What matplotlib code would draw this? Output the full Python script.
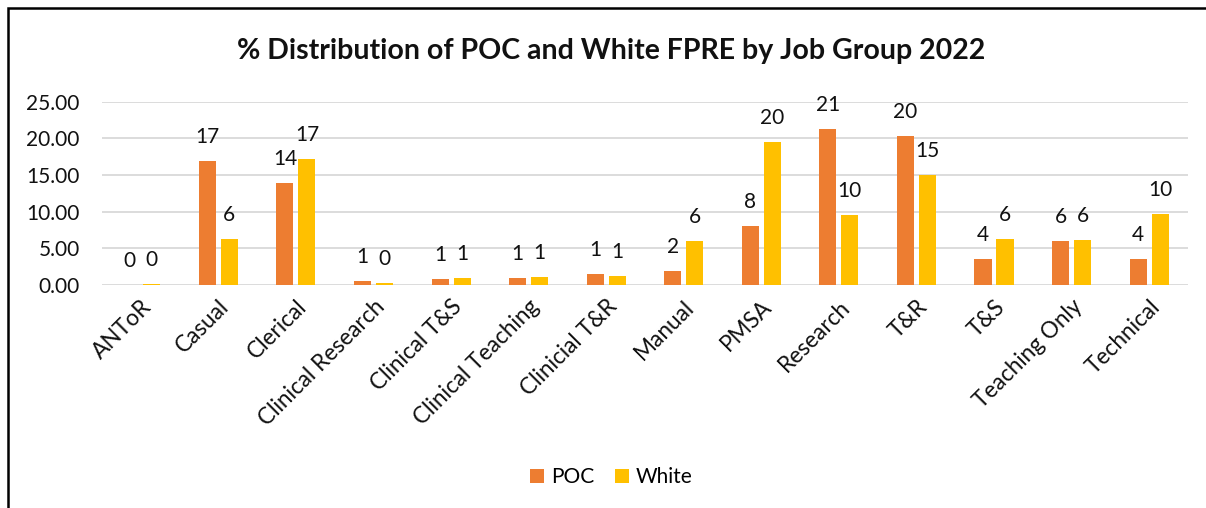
import matplotlib
matplotlib.use("Agg")
import matplotlib.pyplot as plt
import numpy as np
from matplotlib.patches import Rectangle

categories = ["ANToR", "Casual", "Clerical", "Clinical Research", "Clinical T&S",
              "Clinical Teaching", "Clinicial T&R", "Manual", "PMSA", "Research",
              "T&R", "T&S", "Teaching Only", "Technical"]
poc = [0.0, 16.9, 13.95, 0.55, 0.82, 0.95, 1.46, 1.87, 8.05, 21.3, 20.3, 3.6, 6.05, 3.6]
white = [0.1, 6.3, 17.2, 0.27, 0.95, 1.1, 1.2, 6.0, 19.5, 9.6, 15.05, 6.3, 6.1, 9.65]
yticks = [0, 5, 10, 15, 20, 25]

POC_COLOR = "#ED7D31"
WHITE_COLOR = "#FFC000"
FONT = "Lato"
FS = 15

plt.rcParams["font.family"] = [FONT, "DejaVu Sans"]

fig = plt.figure(figsize=(12.06, 5.08), dpi=100)
ax = fig.add_axes([0.0846, 0.439, 0.9004, 0.361])

x = np.arange(len(categories))
w = 0.22
off = 0.142
b1 = ax.bar(x - off, poc, width=w, color=POC_COLOR, label="POC", zorder=3)
b2 = ax.bar(x + off, white, width=w, color=WHITE_COLOR, label="White", zorder=3)

for bars, vals in ((b1, poc), (b2, white)):
    for rect, v in zip(bars, vals):
        ax.annotate(f"{v:.0f}", xy=(rect.get_x() + rect.get_width() / 2, v),
                    xytext=(0, 13), textcoords="offset points",
                    ha="center", va="baseline", fontsize=FS, color="#111111")

ax.set_xlim(-0.5, len(categories) - 0.5)
ax.set_ylim(0, 25)
ax.set_yticks(yticks)
ax.set_yticklabels([f"{t:.2f}" for t in yticks], fontsize=FS, color="#111111")
ax.yaxis.grid(True, color="#D9D9D9", linewidth=1.3, zorder=0)
ax.tick_params(axis="y", length=0, pad=16)
ax.tick_params(axis="x", length=0, pad=8)
ax.set_xticks(x)
ax.set_xticklabels(categories, rotation=45, ha="right", rotation_mode="anchor",
                   fontsize=16.3, color="#111111")
for s in ax.spines.values():
    s.set_visible(False)

fig.text(0.507, 0.9, "% Distribution of POC and White FPRE by Job Group 2022",
         ha="center", va="center", fontsize=20.5, fontweight="bold", color="#111111")

fig.legend(handles=[b1, b2], labels=["POC", "White"], loc="center",
           bbox_to_anchor=(0.507, 0.061), ncol=2, frameon=False, fontsize=FS,
           handlelength=0.65, handleheight=0.65, handletextpad=0.35, columnspacing=1.0)

fig.patches.append(Rectangle((8 / 1206, -0.1), 1.2, 1 - 8 / 508 + 0.1,
                             transform=fig.transFigure, fill=False,
                             edgecolor="black", linewidth=1.8))

fig.savefig("out.png", dpi=100)
